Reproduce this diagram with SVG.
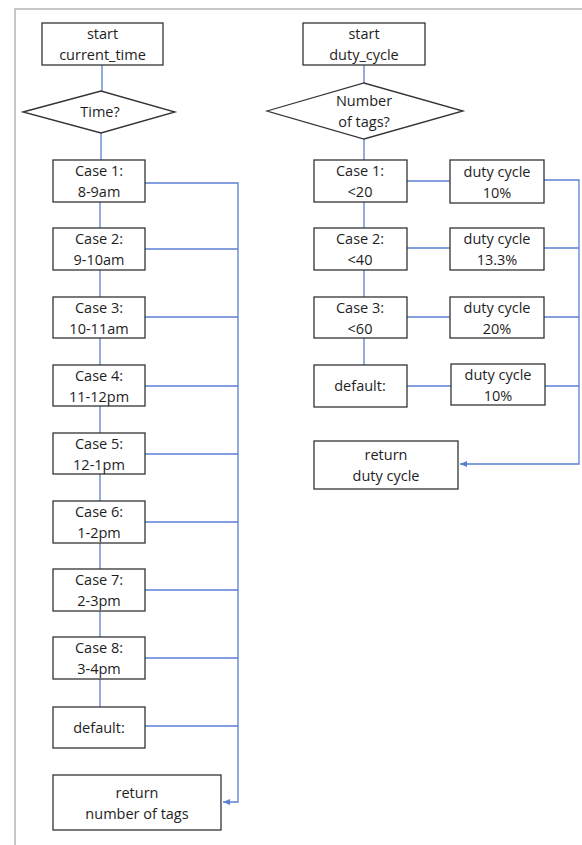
<svg xmlns="http://www.w3.org/2000/svg" width="582" height="845" viewBox="0 0 582 845">
<style>
.box{fill:#fff;stroke:#333;stroke-width:1.3}
.c{fill:none;stroke:#5b80d2;stroke-width:1.3}
text{font-family:"Open Sans","Noto Sans",sans-serif;font-size:14.5px;fill:#1e1e1e;text-anchor:middle}
</style>
<defs>
<marker id="ah" markerWidth="8" markerHeight="8" refX="7" refY="4" orient="auto" markerUnits="userSpaceOnUse">
<path d="M0,1 L7,4 L0,7 Z" fill="#5b80d2"/>
</marker>
</defs>
<rect width="582" height="845" fill="#fff"/>
<path d="M15,845 V9 H582" fill="none" stroke="#c8c8c8" stroke-width="2"/>
<g id="connectors">
<path class="c" d="M102,65 V91 M101,133 V160 M100,202 V228 M100,270 V297 M100,338 V365 M100,406 V433 M100,474 V501 M100,543 V569 M100,611 V637 M100,679 V707"/>
<path class="c" d="M145,183 H238 V802 H223" marker-end="url(#ah)"/>
<path class="c" d="M145,249 H238 M145,317 H238 M145,386 H238 M145,454 H238 M145,522 H238 M145,590 H238 M145,658 H238 M145,726 H238"/>
<path class="c" d="M364,65 V83 M364,139 V160 M364,202 V228 M364,270 V297 M364,338 V365"/>
<path class="c" d="M407,181 H450 M407,248 H450 M407,317 H450 M407,386 H451"/>
<path class="c" d="M544,180 H579 V464 H460" marker-end="url(#ah)"/>
<path class="c" d="M544,248 H579 M544,317 H579 M545,386 H579"/>
</g>
<g id="start_time"><rect class="box" x="42" y="23" width="121" height="42"/><text x="102.5" y="39">start</text><text x="102.5" y="60">current_time</text></g>
<g id="time_q"><polygon class="box" points="23,112 101,91 175,112 101,133"/><text x="100" y="117">Time?</text></g>
<g id="case1"><rect class="box" x="53" y="160" width="92" height="42"/><text x="99" y="176">Case 1:</text><text x="99" y="197">8-9am</text></g>
<g id="case2"><rect class="box" x="53" y="228" width="92" height="42"/><text x="99" y="244">Case 2:</text><text x="99" y="265">9-10am</text></g>
<g id="case3"><rect class="box" x="53" y="297" width="92" height="41"/><text x="99" y="312.5">Case 3:</text><text x="99" y="333.5">10-11am</text></g>
<g id="case4"><rect class="box" x="53" y="365" width="92" height="41"/><text x="99" y="380.5">Case 4:</text><text x="99" y="401.5">11-12pm</text></g>
<g id="case5"><rect class="box" x="53" y="433" width="92" height="41"/><text x="99" y="448.5">Case 5:</text><text x="99" y="469.5">12-1pm</text></g>
<g id="case6"><rect class="box" x="53" y="501" width="92" height="42"/><text x="99" y="517">Case 6:</text><text x="99" y="538">1-2pm</text></g>
<g id="case7"><rect class="box" x="53" y="569" width="92" height="42"/><text x="99" y="585">Case 7:</text><text x="99" y="606">2-3pm</text></g>
<g id="case8"><rect class="box" x="53" y="637" width="92" height="42"/><text x="99" y="653">Case 8:</text><text x="99" y="674">3-4pm</text></g>
<g id="default_left"><rect class="box" x="53" y="707" width="92" height="41"/><text x="99" y="732.5">default:</text></g>
<g id="return_tags"><rect class="box" x="53" y="775" width="168" height="55"/><text x="137" y="797.5">return</text><text x="137" y="818.5">number of tags</text></g>
<g id="start_duty"><rect class="box" x="303" y="23" width="122" height="42"/><text x="364" y="39">start</text><text x="364" y="60">duty_cycle</text></g>
<g id="tags_q"><polygon class="box" points="267,111 364,83 463,111 364,139"/><text x="364" y="105.5">Number</text><text x="364" y="126.5">of tags?</text></g>
<g id="rcase1"><rect class="box" x="314" y="160" width="93" height="42"/><text x="360" y="176">Case 1:</text><text x="360" y="197">&lt;20</text></g>
<g id="rcase2"><rect class="box" x="314" y="228" width="93" height="42"/><text x="360" y="244">Case 2:</text><text x="360" y="265">&lt;40</text></g>
<g id="rcase3"><rect class="box" x="314" y="297" width="93" height="41"/><text x="360" y="312.5">Case 3:</text><text x="360" y="333.5">&lt;60</text></g>
<g id="rdefault"><rect class="box" x="314" y="365" width="93" height="42"/><text x="360" y="391">default:</text></g>
<g id="dc1"><rect class="box" x="450" y="160" width="94" height="43"/><text x="497" y="176.5">duty cycle</text><text x="497" y="197.5">10%</text></g>
<g id="dc2"><rect class="box" x="450" y="228" width="94" height="42"/><text x="497" y="244">duty cycle</text><text x="497" y="265">13.3%</text></g>
<g id="dc3"><rect class="box" x="450" y="297" width="94" height="41"/><text x="497" y="312.5">duty cycle</text><text x="497" y="333.5">20%</text></g>
<g id="dc4"><rect class="box" x="451" y="364" width="94" height="41"/><text x="498" y="379.5">duty cycle</text><text x="498" y="400.5">10%</text></g>
<g id="return_duty"><rect class="box" x="314" y="441" width="144" height="48"/><text x="386" y="460">return</text><text x="386" y="481">duty cycle</text></g>
</svg>
